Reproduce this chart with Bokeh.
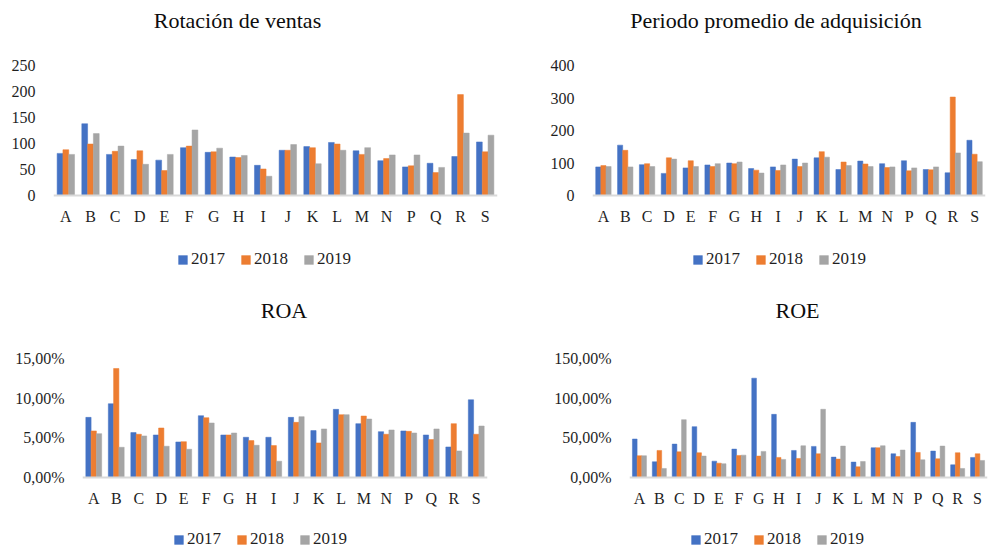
from bokeh.plotting import figure
from bokeh.models import (FactorRange, Range1d, FixedTicker, Legend, Label,
                          LegendItem, ColumnDataSource)
from bokeh.layouts import column, row
from bokeh.transform import dodge
from bokeh.embed import file_html
from bokeh.resources import INLINE

# ---------------- data ----------------
categories = ["A", "B", "C", "D", "E", "F", "G", "H", "I", "J", "K", "L",
              "M", "N", "P", "Q", "R", "S"]
years = ["2017", "2018", "2019"]

rot_2017 = [81, 138, 79, 69, 68, 92, 83, 74, 58, 87, 94, 102, 86, 67, 55, 62, 75, 103]
rot_2018 = [88, 99, 85, 86, 48, 95, 84, 73, 51, 87, 92, 99, 79, 71, 57, 44, 194, 84]
rot_2019 = [79, 119, 95, 60, 79, 126, 91, 77, 37, 98, 61, 87, 92, 78, 78, 54, 120, 116]

per_2017 = [88, 155, 95, 68, 85, 94, 100, 83, 88, 112, 116, 80, 106, 98, 107, 80, 70, 170]
per_2018 = [92, 139, 98, 116, 107, 89, 98, 78, 77, 89, 135, 103, 97, 86, 76, 79, 303, 127]
per_2019 = [89, 88, 89, 112, 89, 98, 103, 69, 94, 100, 118, 92, 89, 88, 85, 88, 131, 104]

roa_2017 = [7.58, 9.30, 5.66, 5.36, 4.48, 7.79, 5.36, 5.07, 5.07, 7.58, 5.91, 8.59, 6.79, 5.78, 5.87, 5.36, 3.85, 9.80]
roa_2018 = [5.87, 13.74, 5.45, 6.24, 4.52, 7.54, 5.36, 4.65, 4.02, 6.95, 4.36, 7.92, 7.75, 5.45, 5.82, 4.78, 6.79, 5.45]
roa_2019 = [5.53, 3.81, 5.24, 3.94, 3.56, 6.87, 5.61, 4.06, 2.05, 7.67, 6.12, 7.92, 7.37, 5.99, 5.61, 6.12, 3.35, 6.49]

roe_2017 = [48.5, 19.8, 42.1, 64.1, 20.6, 35.8, 125.2, 79.6, 34.1, 39.2, 25.7, 19.4, 37.5, 29.9, 69.5, 33.3, 16.0, 25.3]
roe_2018 = [27.4, 34.1, 32.4, 31.2, 18.1, 27.8, 27.0, 25.3, 24.0, 29.9, 23.2, 13.5, 37.5, 26.5, 31.6, 23.6, 31.2, 29.9]
roe_2019 = [27.4, 11.4, 72.9, 27.0, 17.3, 28.2, 32.9, 22.8, 40.0, 86.0, 39.6, 20.2, 40.0, 34.6, 22.3, 39.6, 11.4, 21.5]

rot_ticks = [0, 50, 100, 150, 200, 250]
rot_labels = ["0", "50", "100", "150", "200", "250"]
per_ticks = [0, 100, 200, 300, 400]
per_labels = ["0", "100", "200", "300", "400"]
roa_ticks = [0, 5, 10, 15]
roa_labels = ["0,00%", "5,00%", "10,00%", "15,00%"]
roe_ticks = [0, 50, 100, 150]
roe_labels = ["0,00%", "50,00%", "100,00%", "150,00%"]

# ---------------- style ----------------
COLORS = ["#4472C4", "#ED7D31", "#A5A5A5"]
FONT = "Liberation Serif"
TEXT = "#1f1f1f"
BAR_W = 0.235


def make_panel(title, series, ticks, labels, ymax, width, height,
               frame_left, frame_right, zero_px, top_px,
               title_dx, title_dy, leg_x, leg_y):
    # frame covers the whole height of the figure; y range chosen so that
    # 0 sits at zero_px and ymax at top_px (pixels from the figure top)
    k = (zero_px - top_px) / ymax
    y0 = -(height - zero_px) / k
    y1 = ymax + top_px / k
    p = figure(x_range=FactorRange(factors=categories, range_padding=0),
               y_range=Range1d(y0, y1), width=width, height=height,
               output_backend="svg", toolbar_location=None, title=None,
               min_border_left=frame_left, min_border_right=width - frame_right,
               min_border_top=0, min_border_bottom=0)
    src = ColumnDataSource(dict(cat=categories, y0=series[0], y1=series[1], y2=series[2]))
    rends = []
    for i, key in enumerate(["y0", "y1", "y2"]):
        r = p.vbar(x=dodge("cat", (i - 1) * BAR_W, range=p.x_range), top=key,
                   bottom=0, width=BAR_W, source=src, fill_color=COLORS[i],
                   line_color=COLORS[i], line_width=0.5)
        rends.append(r)

    p.outline_line_color = None
    p.xgrid.visible = False
    p.ygrid.visible = False
    p.background_fill_color = "white"
    p.border_fill_color = "white"

    p.yaxis.ticker = FixedTicker(ticks=ticks)
    p.yaxis.major_label_overrides = {t: l for t, l in zip(ticks, labels)}
    p.yaxis.axis_line_color = None
    p.yaxis.major_tick_line_color = None
    p.yaxis.major_tick_out = 0
    p.yaxis.major_tick_in = 0
    p.yaxis.minor_tick_line_color = None
    p.yaxis.major_label_standoff = 18
    p.yaxis.major_label_text_font = FONT
    p.yaxis.major_label_text_font_size = "16px"
    p.yaxis.major_label_text_color = TEXT

    p.xaxis.fixed_location = 0
    p.xaxis.axis_line_color = "#D9D9D9"
    p.xaxis.axis_line_width = 2
    p.xaxis.major_tick_line_color = None
    p.xaxis.major_tick_out = 0
    p.xaxis.major_tick_in = 0
    p.xaxis.minor_tick_line_color = None
    p.xaxis.major_label_standoff = 12
    p.xaxis.major_label_text_font = FONT
    p.xaxis.major_label_text_font_size = "16px"
    p.xaxis.major_label_text_color = TEXT

    lab = Label(x=len(categories) / 2, y=ymax, x_units="data", y_units="data",
                x_offset=title_dx, y_offset=title_dy, text=title,
                text_align="center", text_baseline="middle",
                text_font=FONT, text_font_size="22px", text_color="#0d0d0d")
    p.add_layout(lab)

    legend = Legend(items=[LegendItem(label=years[i], renderers=[rends[i]]) for i in range(3)],
                    location=(leg_x, leg_y), orientation="horizontal",
                    border_line_color=None, background_fill_alpha=0,
                    padding=0, margin=0, spacing=15,
                    glyph_width=11, glyph_height=11,
                    label_standoff=3, label_text_font=FONT,
                    label_text_font_size="17px", label_text_color=TEXT)
    p.add_layout(legend)
    return p


pA = make_panel("Rotación de ventas", [rot_2017, rot_2018, rot_2019], rot_ticks, rot_labels, 250,
                500, 275, 53, 497, 195, 65, -38, 45, 124, 6)
pB = make_panel("Periodo promedio de adquisición", [per_2017, per_2018, per_2019], per_ticks, per_labels, 400,
                489, 275, 92, 485, 195, 65, -13, 45, 100, 6)
pC = make_panel("ROA", [roa_2017, roa_2018, roa_2019], roa_ticks, roa_labels, 15,
                500, 275, 82, 487, 202, 83, -1, 48, 91, 1)
pD = make_panel("ROE", [roe_2017, roe_2018, roe_2019], roe_ticks, roe_labels, 150,
                489, 275, 129, 487, 202, 83, -11, 48, 61, 1)

layout = column(row(pA, pB), row(pC, pD))

open("out.html", "w").write(file_html(layout, INLINE))
